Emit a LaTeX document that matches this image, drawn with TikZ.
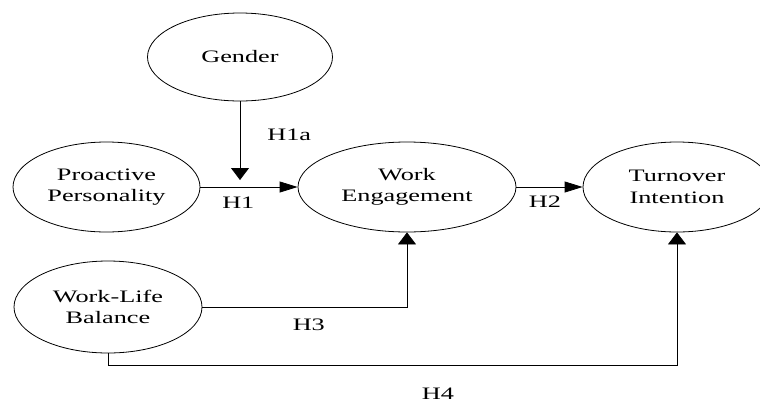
\documentclass[tikz,border=0pt]{standalone}
\usepackage{fontspec}
\setmainfont[FakeStretch=1.5]{Liberation Serif}
\usetikzlibrary{arrows.meta}
\usetikzlibrary{shapes.geometric}

\begin{document}
\begin{tikzpicture}[x=1pt,y=-1pt,
    construct/.style={draw,ellipse,line width=0.8pt,inner sep=0pt,align=center,
      font=\fontsize{17.5}{21.5}\selectfont},
    hyp/.style={inner sep=0pt,font=\fontsize{17.5}{21.5}\selectfont},
    harrow/.style={line width=0.8pt,-{Triangle[length=18pt,width=11pt]}},
    varrow/.style={line width=0.8pt,-{Triangle[length=12pt,width=18pt]}}]
            \useasboundingbox (0,0) rectangle (760,405);
            \node[construct,minimum width=185pt,minimum height=88pt] (G) at (240,57) {Gender};
            \node[construct,minimum width=187pt,minimum height=90pt] (PP) at (106.5,187) {Proactive\\Personality};
            \node[construct,minimum width=218pt,minimum height=90pt] (WE) at (407,187) {Work\\Engagement};
            \node[construct,minimum width=188pt,minimum height=90pt] (TI) at (677,187) {Turnover\\Intention};
            \node[construct,minimum width=188pt,minimum height=92pt] (WLB) at (108,307) {Work-Life\\Balance};
            \coordinate (mod) at (240,180);
            \coordinate (wlbdown) at (108,365);
            \draw[varrow] (G) to node[hyp,pos=.43,right=27pt] {H1a} (mod);
            \draw[harrow] (PP) to node[hyp,pos=.39,below=10pt] {H1} (WE);
            \draw[harrow] (WE) to node[hyp,pos=.43,below=9pt] {H2} (TI);
            \draw[varrow] (WLB) -| node[hyp,pos=.26,below=12pt] {H3} (WE);
            \draw[varrow] (WLB) -- (wlbdown) -| node[hyp,pos=.29,below=23pt] {H4} (TI);
        \end{tikzpicture}
\end{document}
